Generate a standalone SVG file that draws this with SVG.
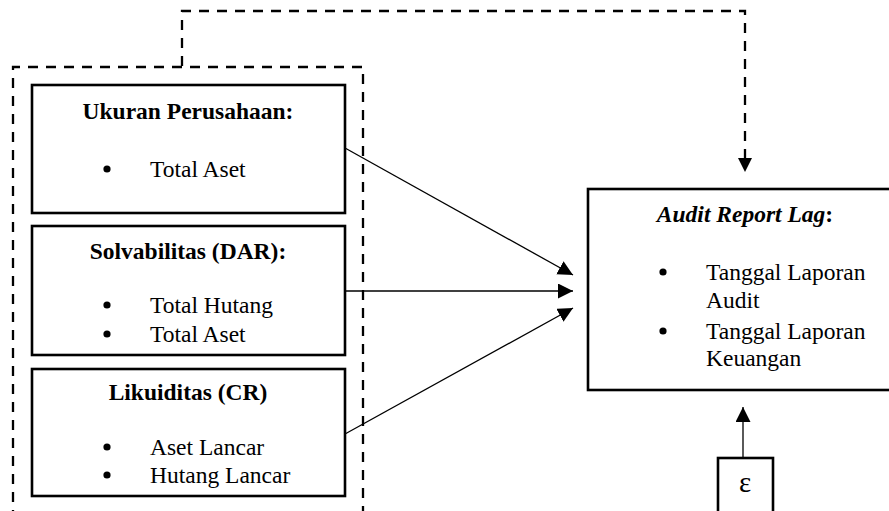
<svg xmlns="http://www.w3.org/2000/svg" width="889" height="511" viewBox="0 0 889 511">
<style>
  .box { fill: #fff; stroke: #000; stroke-width: 2.6; }
  .dash { fill: none; stroke: #000; stroke-width: 2.3; stroke-dasharray: 10 8; }
  .conn { fill: none; stroke: #000; stroke-width: 1.3; }
  text { font-family: "Liberation Serif", "Times New Roman", serif; font-size: 23.5px; fill: #000; }
  .title { font-weight: bold; text-anchor: middle; }
  .dot { fill: #000; }
</style>
<defs>
  <marker id="ah" markerUnits="userSpaceOnUse" markerWidth="16" markerHeight="16" refX="15" refY="7.5" orient="auto">
    <path d="M0,0 L15,7.5 L0,15 z" fill="#000"/>
  </marker>
</defs>

<g id="group-outline">
  <path class="dash" d="M13,520 V67 H363 V520"/>
</g>

<g id="connectors">
  <path class="dash" d="M182,66 V11 H745 V158"/>
  <path d="M738,158 L752,158 L745,172 z" fill="#000"/>
  <line class="conn" x1="345" y1="148" x2="573" y2="275" marker-end="url(#ah)"/>
  <line class="conn" x1="345" y1="291" x2="573" y2="291" marker-end="url(#ah)"/>
  <line class="conn" x1="345" y1="434" x2="573" y2="308" marker-end="url(#ah)"/>
  <line class="conn" x1="743" y1="458" x2="743" y2="407" marker-end="url(#ah)"/>
</g>

<g id="node-ukuran">
  <rect class="box" x="32" y="85" width="313" height="128"/>
  <text class="title" x="188" y="119">Ukuran Perusahaan:</text>
  <circle class="dot" cx="107" cy="169" r="3.6"/>
  <text x="150" y="177">Total Aset</text>
</g>

<g id="node-solvabilitas">
  <rect class="box" x="32" y="226" width="313" height="129"/>
  <text class="title" x="188" y="259">Solvabilitas (DAR):</text>
  <circle class="dot" cx="107" cy="305" r="3.6"/>
  <text x="150" y="313">Total Hutang</text>
  <circle class="dot" cx="107" cy="334" r="3.6"/>
  <text x="150" y="342">Total Aset</text>
</g>

<g id="node-likuiditas">
  <rect class="box" x="32" y="369" width="313" height="127"/>
  <text class="title" x="188" y="400">Likuiditas (CR)</text>
  <circle class="dot" cx="107" cy="447" r="3.6"/>
  <text x="150" y="455">Aset Lancar</text>
  <circle class="dot" cx="107" cy="475" r="3.6"/>
  <text x="150" y="483">Hutang Lancar</text>
</g>

<g id="node-audit">
  <rect class="box" x="588" y="189" width="312" height="201"/>
  <text class="title" x="745" y="222"><tspan font-style="italic">Audit Report Lag</tspan>:</text>
  <circle class="dot" cx="663" cy="272" r="3.6"/>
  <text x="706" y="280">Tanggal Laporan</text>
  <text x="706" y="308">Audit</text>
  <circle class="dot" cx="663" cy="331" r="3.6"/>
  <text x="706" y="339">Tanggal Laporan</text>
  <text x="706" y="366">Keuangan</text>
</g>

<g id="node-error">
  <rect class="box" x="718" y="458" width="55" height="60"/>
  <text x="745" y="492" text-anchor="middle" style="font-size:29px">ε</text>
</g>
</svg>
